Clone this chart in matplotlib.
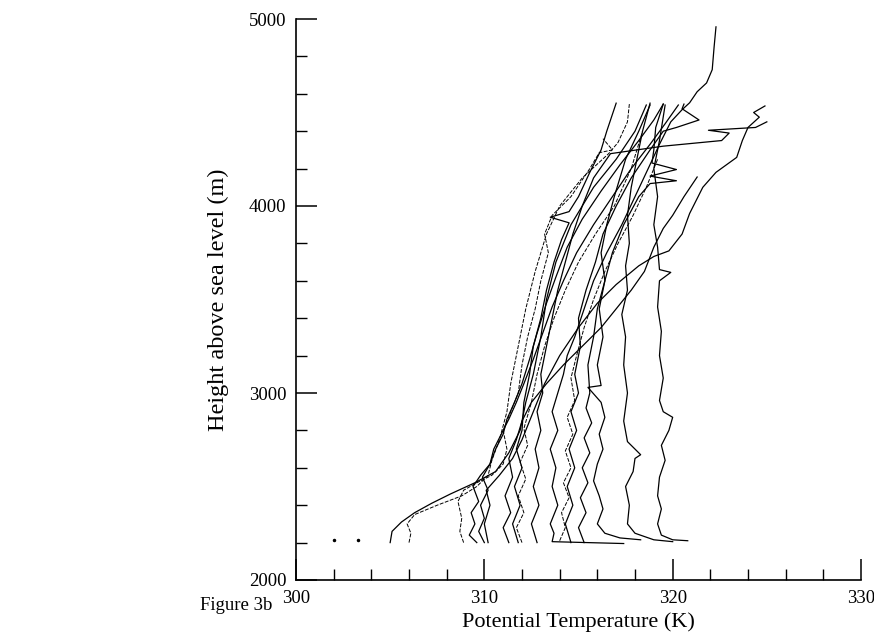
import matplotlib
matplotlib.use('Agg')
import matplotlib.pyplot as plt
import matplotlib.ticker as tkr

plt.rcParams['font.family'] = ['Liberation Serif', 'DejaVu Serif']

# potential temperature (K) and height (m) for each sounding
thA = [305.0, 305.1, 305.6, 306.3, 307.2, 308.2, 309.5, 310.6, 311.3, 311.9, 312.2, 312.6, 313.0, 313.3, 313.8, 314.6, 315.8, 317.0, 318.0, 318.6]
zA = [2200, 2260, 2310, 2360, 2410, 2460, 2520, 2580, 2680, 2800, 2950, 3100, 3300, 3500, 3700, 3900, 4100, 4250, 4400, 4540]

thB = [306.0, 306.1, 305.9, 306.3, 307.5, 308.8, 309.6, 310.2, 310.4, 310.8, 311.2, 311.4, 311.8, 312.2, 312.7, 313.3, 314.0, 315.2, 316.6, 317.1, 317.6, 317.7]
zB = [2200, 2250, 2300, 2350, 2400, 2450, 2500, 2560, 2640, 2750, 2900, 3050, 3250, 3450, 3650, 3850, 4000, 4150, 4280, 4340, 4450, 4545]

thC = [308.9, 308.7, 308.8, 308.6, 308.9, 309.6, 310.4, 311.0, 311.2, 311.0, 311.4, 311.8, 312.0, 312.3, 312.7, 313.0, 313.4, 313.2, 313.6, 314.6, 315.6, 316.1, 316.8, 316.3]
zC = [2200, 2260, 2330, 2420, 2480, 2520, 2560, 2620, 2700, 2800, 2900, 3000, 3150, 3300, 3450, 3600, 3750, 3850, 3950, 4050, 4200, 4285, 4300, 4360]

thD = [309.6, 309.2, 309.5, 309.3, 309.7, 309.4, 309.8, 310.3, 310.5, 310.9, 311.3, 311.7, 312.1, 312.6, 313.1, 313.6, 314.2, 314.9, 315.8, 316.8, 317.8, 318.8, 319.6, 320.3]
zD = [2200, 2240, 2300, 2360, 2420, 2500, 2560, 2620, 2700, 2780, 2860, 2950, 3050, 3180, 3320, 3460, 3600, 3750, 3900, 4050, 4200, 4330, 4440, 4540]

thE = [310.0, 309.7, 310.0, 309.8, 310.2, 309.9, 310.3, 310.6, 311.0, 311.2, 311.6, 312.0, 312.4, 312.8, 313.3, 313.8, 314.4, 315.2, 316.2, 317.2, 318.2, 319.0, 319.5]
zE = [2200, 2260, 2330, 2400, 2480, 2550, 2620, 2700, 2780, 2860, 2950, 3050, 3180, 3320, 3480, 3620, 3780, 3930, 4080, 4220, 4350, 4460, 4545]

thR = [310.2, 310.0, 310.3, 310.1, 310.8, 311.5, 312.0, 312.6, 313.2, 314.0, 315.0, 316.0, 317.0, 318.2, 319.0, 319.8, 320.5, 320.9, 321.6, 322.3, 323.4, 323.7, 324.0, 324.6, 324.3, 324.9]
zR = [2200, 2300, 2400, 2480, 2560, 2650, 2750, 2900, 3050, 3200, 3350, 3480, 3580, 3680, 3730, 3760, 3850, 3960, 4100, 4180, 4260, 4350, 4420, 4475, 4500, 4535]

thP = [311.3, 311.0, 311.4, 311.1, 311.5, 311.3, 311.7, 312.0, 312.5, 313.3, 314.2, 315.2, 316.2, 317.0, 317.8, 318.5, 319.0, 319.5, 320.0, 320.6, 321.3]
zP = [2200, 2280, 2360, 2450, 2550, 2650, 2750, 2850, 2950, 3050, 3150, 3250, 3350, 3450, 3550, 3650, 3780, 3880, 3950, 4050, 4155]

thO = [311.8, 311.5, 311.9, 311.6, 312.0, 311.7, 312.0, 312.1, 312.4, 312.6, 313.0, 313.3, 313.7, 314.1, 314.5, 313.5, 314.5, 315.0, 315.6, 316.2, 316.5, 317.0]
zO = [2200, 2300, 2400, 2500, 2600, 2700, 2800, 2950, 3100, 3250, 3400, 3550, 3700, 3820, 3910, 3940, 3970, 4050, 4180, 4300, 4400, 4550]

thG = [312.0, 311.7, 312.1, 311.8, 312.2, 311.9, 312.3, 312.1, 312.5, 312.8, 313.2, 313.7, 314.3, 315.0, 315.9, 316.9, 317.8, 318.4]
zG = [2200, 2280, 2360, 2450, 2540, 2630, 2720, 2810, 2950, 3100, 3250, 3400, 3550, 3700, 3850, 4000, 4200, 4400]

thZ = [312.8, 312.5, 312.9, 312.6, 312.9, 312.7, 313.0, 312.8, 313.1, 313.0, 313.3, 313.6, 313.9, 314.3, 314.7, 315.2, 315.8, 316.7, 319.5, 322.6, 323.0, 321.9, 324.4, 325.0]
zZ = [2200, 2300, 2400, 2500, 2600, 2700, 2800, 2900, 3000, 3100, 3250, 3400, 3550, 3700, 3850, 4000, 4150, 4280, 4320, 4350, 4390, 4405, 4420, 4450]

thT = [317.4, 315.5, 313.6, 313.7, 313.5, 313.9, 313.6, 313.8, 313.5, 313.9, 313.6, 313.9, 314.2, 314.4, 314.8, 315.3, 315.8, 316.5, 317.3, 318.0, 318.7, 319.3, 319.9, 320.5, 320.9, 321.3, 321.8, 322.1, 322.2, 322.3]
zT = [2195, 2200, 2205, 2250, 2300, 2400, 2500, 2600, 2700, 2800, 2900, 3000, 3100, 3200, 3300, 3450, 3600, 3750, 3900, 4050, 4200, 4330, 4450, 4515, 4552, 4611, 4658, 4729, 4850, 4958]

thH = [314.0, 314.3, 314.1, 314.5, 314.2, 314.6, 314.3, 314.7, 314.4, 314.8, 314.6, 314.9, 315.3, 315.8, 316.4, 317.1, 317.9, 318.6, 319.2]
zH = [2210, 2280, 2360, 2440, 2520, 2600, 2690, 2780, 2870, 2960, 3080, 3200, 3350, 3500, 3650, 3800, 3950, 4100, 4250]

thM = [314.6, 314.3, 314.7, 314.4, 314.8, 314.5, 314.9, 314.6, 315.0, 314.8, 315.1, 315.0, 315.4, 315.9, 316.3, 317.0, 317.8, 318.8, 319.5, 320.2, 321.4, 320.5, 320.6]
zM = [2200, 2300, 2400, 2500, 2600, 2700, 2800, 2900, 3000, 3100, 3250, 3400, 3550, 3700, 3850, 4000, 4150, 4300, 4400, 4420, 4460, 4520, 4545]

thN = [315.3, 315.0, 315.4, 315.1, 315.5, 315.2, 315.6, 315.3, 315.7, 315.4, 315.6, 315.5, 315.8, 316.0, 316.4, 316.8, 317.4, 318.2, 318.8, 320.2, 318.8, 320.2, 318.9, 319.0, 319.1, 319.5]
zN = [2200, 2280, 2360, 2440, 2520, 2600, 2680, 2760, 2840, 2920, 3000, 3150, 3300, 3450, 3600, 3750, 3900, 4050, 4120, 4135, 4160, 4195, 4230, 4300, 4420, 4545]

thV3 = [318.3, 317.2, 316.4, 316.0, 316.3, 316.1, 315.8, 316.0, 316.3, 316.1, 316.4, 316.2, 315.5, 316.2, 316.0, 316.3, 316.1, 316.4, 316.2, 316.5, 316.9, 317.5, 318.2, 318.8]
zV3 = [2215, 2225, 2250, 2300, 2380, 2450, 2530, 2620, 2700, 2780, 2870, 2950, 3030, 3040, 3150, 3300, 3450, 3600, 3750, 3900, 4050, 4250, 4400, 4540]

thV2 = [320.0, 319.0, 318.0, 317.6, 317.7, 317.5, 317.9, 318.0, 318.3, 317.6, 317.4, 317.6, 317.4, 317.5, 317.3, 317.6, 317.5, 317.7, 317.6, 317.8, 318.1, 318.4, 318.8]
zV2 = [2205, 2215, 2250, 2300, 2400, 2500, 2580, 2650, 2670, 2740, 2850, 3000, 3150, 3300, 3420, 3550, 3680, 3800, 3950, 4100, 4250, 4400, 4550]

thV1 = [320.8, 320.0, 319.4, 319.2, 319.4, 319.2, 319.3, 319.6, 319.4, 319.8, 320.0, 319.5, 319.3, 319.5, 319.3, 319.4, 319.2, 319.3, 319.9, 319.3, 319.2, 319.0, 319.2, 319.0, 319.3, 319.6]
zV1 = [2210, 2215, 2240, 2300, 2380, 2450, 2550, 2640, 2720, 2800, 2870, 2900, 2960, 3080, 3200, 3330, 3460, 3600, 3645, 3660, 3780, 3900, 4050, 4200, 4350, 4540]

dotTh = [302.0, 303.3]
dotZ = [2215, 2215]

solid = [(thA, zA), (thD, zD), (thE, zE), (thR, zR), (thP, zP), (thO, zO), (thZ, zZ),
         (thT, zT), (thM, zM), (thN, zN), (thV3, zV3), (thV2, zV2), (thV1, zV1)]
dashed = [(thB, zB), (thC, zC), (thG, zG), (thH, zH)]

fig = plt.figure(figsize=(8.74, 6.37), dpi=100)
ax = fig.add_axes([296/874., 1-580/637., 565/874., 561/637.])

for th, z in solid:
    ax.plot(th, z, color='black', lw=0.9)
for th, z in dashed:
    ax.plot(th, z, color='black', lw=0.7, ls=(0, (4, 1.5)))
ax.plot(dotTh, dotZ, 'k.', ms=3)

ax.set_xlim(300, 330)
ax.set_ylim(2000, 5000)
ax.spines['top'].set_visible(False)
ax.spines['right'].set_visible(False)
ax.spines['left'].set_linewidth(1.2)
ax.spines['bottom'].set_linewidth(1.2)

ax.xaxis.set_major_locator(tkr.MultipleLocator(10))
ax.xaxis.set_minor_locator(tkr.MultipleLocator(2))
ax.yaxis.set_major_locator(tkr.MultipleLocator(1000))
ax.yaxis.set_minor_locator(tkr.MultipleLocator(200))
ax.tick_params(which='major', direction='in', length=15, width=1.1, labelsize=13.5, pad=7)
ax.tick_params(which='minor', direction='in', length=8, width=1.0)

ax.set_xlabel('Potential Temperature (K)', fontsize=16, labelpad=4)
ax.set_ylabel('Height above sea level (m)', fontsize=17.5, labelpad=14)
fig.text(200/874., 1-606/637., 'Figure 3b', fontsize=13.5, va='center', ha='left')

fig.savefig('out.png', dpi=100)
